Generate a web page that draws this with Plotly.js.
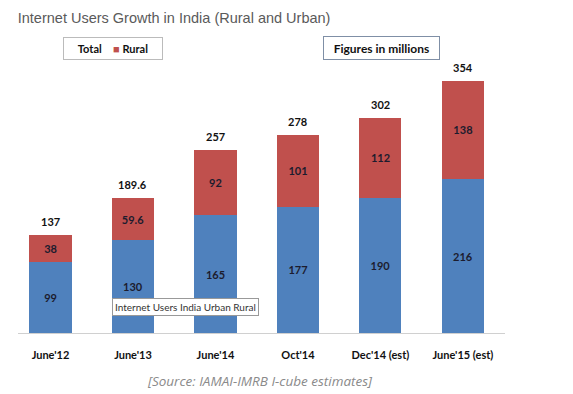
<!DOCTYPE html>
<html><head><meta charset="utf-8">
<script src="https://cdn.plot.ly/plotly-3.0.1.min.js"></script>
<style>html,body{margin:0;padding:0;background:#fff}#chart{width:573px;height:394px}</style>
</head><body><div id="chart"></div>
<script>
const categories = ["June'12", "June'13", "June'14", "Oct'14", "Dec'14 (est)", "June'15 (est)"];
const urban = [99, 130, 165, 177, 190, 216];
const rural = [38, 59.6, 92, 101, 112, 138];
const totals = [137, 189.6, 257, 278, 302, 354];

const labelFont = {family: 'Lato, "Open Sans", sans-serif', size: 11, color: '#1c1c2e', weight: 'bold'};

const traces = [
  {type: 'bar', name: 'Urban', x: categories, y: urban, marker: {color: '#4F81BD'},
   text: urban.map(String), textposition: 'inside', insidetextanchor: 'middle',
   textfont: labelFont, hoverinfo: 'none', showlegend: false},
  {type: 'bar', name: 'Rural', x: categories, y: rural, marker: {color: '#C0504D'},
   text: rural.map(String), textposition: 'inside', insidetextanchor: 'middle',
   textfont: labelFont, hoverinfo: 'none', showlegend: false}
];

const annotations = categories.map((c, i) => ({
  x: c, y: totals[i], xref: 'x', yref: 'y', text: '<b>' + totals[i] + '</b>',
  showarrow: false, xanchor: 'center', yanchor: 'bottom', yshift: 5,
  font: {family: 'Lato, "Open Sans", sans-serif', size: 11, color: '#111'}
}));

annotations.push(
  {xref: 'paper', yref: 'paper', x: 0.195, y: 1.042, xanchor: 'center', yanchor: 'middle', showarrow: false,
   text: '<b>Total</b>    <span style="color:#C0504D">■</span> <b>Rural</b>',
   width: 96, height: 19, bordercolor: '#bbbbbb', borderwidth: 1, bgcolor: '#fff', borderpad: 1,
   font: {family: 'Lato, sans-serif', size: 11, color: '#111'}},
  {xref: 'paper', yref: 'paper', x: 0.746, y: 1.044, xanchor: 'center', yanchor: 'middle', showarrow: false,
   text: '<b>Figures in millions</b>',
   width: 113, height: 20, bordercolor: '#7f8fa6', borderwidth: 1, bgcolor: '#fff', borderpad: 1,
   font: {family: 'Lato, sans-serif', size: 12, color: '#111'}},
  {xref: 'paper', yref: 'paper', x: 0.343, y: 0.0935, xanchor: 'center', yanchor: 'middle', showarrow: false,
   text: 'Internet Users India Urban Rural',
   bordercolor: '#999', borderwidth: 1, bgcolor: '#fff', borderpad: 2,
   font: {family: 'Lato, sans-serif', size: 10, color: '#333'}},
  {xref: 'paper', yref: 'paper', x: 0.497, y: -0.176, xanchor: 'center', yanchor: 'middle', showarrow: false,
   text: '<i>[Source: IAMAI-IMRB I-cube estimates]</i>',
   font: {family: '"Open Sans", sans-serif', size: 13.5, color: '#8a8a8a'}}
);

const layout = {
  width: 573, height: 394,
  margin: {l: 18, r: 68, t: 60, b: 61},
  paper_bgcolor: '#fff', plot_bgcolor: '#fff',
  barmode: 'stack', bargap: 0.49,
  title: {text: 'Internet Users Growth in India (Rural and Urban)', xref: 'container', yref: 'container',
          x: 0.031, xanchor: 'left', y: 0.954, yanchor: 'middle',
          font: {family: '"Liberation Sans", Arial, sans-serif', size: 14.5, color: '#5a5a5a'}},
  xaxis: {range: [-0.394, 5.51], showline: true, linecolor: '#d0d0d0', linewidth: 1,
          ticks: 'outside', ticklen: 12, tickcolor: 'rgba(0,0,0,0)', showgrid: false,
          tickfont: {family: 'Lato, "Open Sans", sans-serif', size: 11, color: '#111', weight: 'bold'}},
  yaxis: {range: [0, 383], visible: false, showgrid: false, zeroline: false},
  showlegend: false,
  annotations: annotations
};

Plotly.newPlot('chart', traces, layout, {staticPlot: true, displayModeBar: false});
</script></body></html>
